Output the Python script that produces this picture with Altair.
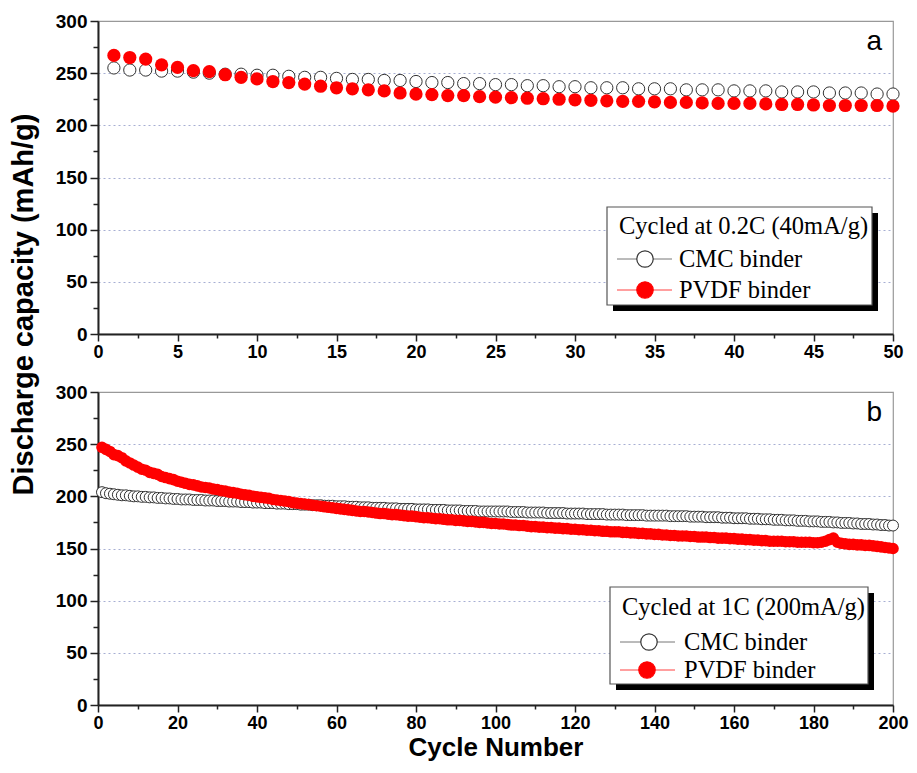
import altair as alt
import pandas as pd

# ---------------- data ----------------
cycles_a = list(range(1, 51))
cmc_a = [255, 253, 253, 252, 252, 251, 250, 249, 249, 248,
         248, 247, 246, 246, 245, 244, 244, 243, 243, 242,
         241, 241, 240, 240, 239, 239, 238, 238, 237, 237,
         236, 236, 236, 235, 235, 235, 234, 234, 234, 233,
         233, 233, 232, 232, 232, 231, 231, 231, 230, 230]
pvdf_a = [267, 265, 263.5, 258, 255.5, 252.5, 251.5, 248.5, 246, 244.5,
          242, 241, 239.5, 237.5, 236, 235, 234, 233, 231, 230,
          229.5, 228.5, 228.5, 227.5, 227, 226.5, 226, 225.5, 225, 224.5,
          224, 223.5, 223, 223, 222.5, 222, 222, 221.5, 221, 221,
          221, 220.5, 220, 220, 219.5, 219, 219, 219, 219, 218.5]

cycles_b = list(range(1, 201))
cmc_b = [204, 203, 202.5, 202, 201.5, 201, 201, 200.5, 200, 200,
         199.5, 199.5, 199, 199, 198.5, 198.5, 198, 198, 197.5, 197.5,
         197, 197, 197, 196.5, 196.5, 196.5, 196, 196, 196, 195.5,
         195.5, 195.5, 195, 195, 195, 194.5, 194.5, 194.5, 194, 194,
         194, 193.5, 193.5, 193.5, 193, 193, 193, 192.5, 192.5, 192.5,
         192, 192, 192, 191.5, 191.5, 191.5, 191, 191, 191, 190.5,
         190.5, 190.5, 190, 190, 190, 189.5, 189.5, 189.5, 189, 189,
         189, 189, 188.5, 188.5, 188.5, 188, 188, 188, 188, 187.5,
         187.5, 187.5, 187.5, 187, 187, 187, 187, 186.5, 186.5, 186.5,
         186.5, 186, 186, 186, 186, 185.5, 185.5, 185.5, 185.5, 185.5,
         185.5, 185.5, 185.5, 185, 185, 185, 185, 184.5, 184.5, 184.5,
         184.5, 184.5, 184, 184, 184, 184, 184, 183.5, 183.5, 183.5,
         183.5, 183.5, 183, 183, 183, 183, 183, 182.5, 182.5, 182.5,
         182.5, 182.5, 182, 182, 182, 182, 182, 181.5, 181.5, 181.5,
         181.5, 181.5, 181.5, 181, 181, 181, 181, 181, 180.5, 180.5,
         180.5, 180.5, 180, 180, 180, 180, 179.5, 179.5, 179.5, 179,
         179, 179, 179, 178.5, 178.5, 178.5, 178, 178, 178, 177.5,
         177.5, 177.5, 177, 177, 177, 176.5, 176.5, 176.5, 176, 176,
         176, 175.5, 175.5, 175.5, 175, 175, 174.5, 174.5, 174.5, 174,
         174, 173.5, 173.5, 173.5, 173, 173, 172.5, 172.5, 172, 172]
pvdf_b = [247, 245, 243, 240, 239, 237, 234, 232, 230, 228,
          226, 225, 223, 222, 221, 219, 218, 217, 216, 214.5,
          213.5, 212.5, 211.5, 211, 210, 209, 208.5, 208, 207, 206.5,
          205.5, 205, 204, 203.5, 203, 202, 201.5, 201, 200, 199.5,
          199, 198.5, 198, 197, 196.5, 196, 195.5, 195, 194, 193.5,
          193, 192.5, 192, 191.5, 191, 190.5, 190, 189.5, 189, 188.5,
          188, 187.5, 187, 186.5, 186, 185.5, 185.5, 185, 184.5, 184,
          183.5, 183.5, 183, 182.5, 182.5, 182, 181.5, 181, 181, 180.5,
          180, 179.5, 179.5, 179, 178.5, 178.5, 178, 177.5, 177.5, 177,
          177, 176.5, 176, 176, 175.5, 175, 175, 174.5, 174, 174,
          173.5, 173.5, 173, 172.5, 172.5, 172, 172, 171.5, 171, 171,
          170.5, 170.5, 170, 170, 169.5, 169.5, 169, 169, 168.5, 168.5,
          168, 168, 167.5, 167.5, 167, 167, 166.5, 166.5, 166, 166,
          166, 165.5, 165.5, 165, 165, 164.5, 164.5, 164, 164, 163.5,
          163.5, 163, 163, 162.5, 162.5, 162, 162, 162, 161.5, 161.5,
          161, 161, 161, 160.5, 160.5, 160, 160, 160, 159.5, 159.5,
          159, 159, 158.5, 158.5, 158, 158, 157.5, 157.5, 157, 157,
          157, 157, 156.5, 156.5, 156.5, 156, 156, 156, 156, 155.5,
          155.5, 156, 157, 158.5, 160, 156, 155, 154.5, 154, 154,
          153.5, 153.5, 153, 153, 152.5, 152, 151.5, 151, 150.5, 150]

panel_labels = ["a", "b"]
legend_titles = ["Cycled at 0.2C (40mA/g)", "Cycled at 1C (200mA/g)"]
series_names = ["CMC binder", "PVDF binder"]
y_title = "Discharge capacity (mAh/g)"
x_title = "Cycle Number"

# ---------------- styling ----------------
W, H = 795, 313
SANS = "Liberation Sans"
SERIF = "Liberation Serif"
RED = "#ff0000"
EDGE = "#333333"


def one(text=""):
    return alt.Data(values=[{"t": text}])


def x_axis(xmax, minor, major, title):
    vals = [round(i * minor, 2) for i in range(int(round(xmax / minor)) + 1)]
    kw = dict(
        values=vals,
        labelExpr=f"datum.value % {major} === 0 ? format(datum.value, 'd') : ''",
        tickSize={"condition": {"test": f"datum.value % {major} === 0", "value": 7}, "value": 4},
        tickColor="#222", tickWidth=1.5,
        domainColor="#222", domainWidth=2,
        grid=False,
        labelFont=SANS, labelFontWeight="bold", labelFontSize=18, labelColor="black",
        labelPadding=2, labelFlush=False, labelOverlap=False,
    )
    if title:
        kw.update(title=title, titleFont=SANS, titleFontWeight="bold", titleFontSize=26,
                  titleColor="black", titlePadding=2)
    else:
        kw.update(title=None)
    return alt.Axis(**kw)


def y_axis(title):
    vals = list(range(0, 301, 25))
    kw = dict(
        values=vals,
        labelExpr="datum.value % 50 === 0 ? format(datum.value, 'd') : ''",
        tickSize={"condition": {"test": "datum.value % 50 === 0", "value": 8}, "value": 5},
        tickColor="#222", tickWidth=1.5,
        domainColor="#222", domainWidth=2,
        grid=True, gridColor="#a7aed3", gridDash=[2, 3], gridWidth=1,
        gridOpacity={"condition": {"test": "datum.value % 50 === 0 && datum.value > 0 && datum.value < 300",
                                   "value": 1}, "value": 0},
        labelFont=SANS, labelFontWeight="bold", labelFontSize=19, labelColor="black",
        labelPadding=3, labelFlush=False, labelOverlap=False,
    )
    if title:
        kw.update(title=title, titleFont=SANS, titleFontWeight="bold", titleFontSize=29,
                  titleColor="black", titleX=-60, titleY=283, titleAngle=270,
                  titleAlign="center", titleBaseline="bottom")
    else:
        kw.update(title=None)
    return alt.Axis(**kw)


def legend(box, title, title_xy, rows, line_x):
    bx1, by1, bx2, by2 = box
    layers = [
        alt.Chart(one()).mark_rect(color="black").encode(
            x=alt.value(bx1 + 6), x2=alt.value(bx2 + 6), y=alt.value(by1 + 6), y2=alt.value(by2 + 6)),
        alt.Chart(one()).mark_rect(fill="white", stroke="#555", strokeWidth=1.2).encode(
            x=alt.value(bx1), x2=alt.value(bx2), y=alt.value(by1), y2=alt.value(by2)),
        alt.Chart(one(title)).mark_text(font=SERIF, fontSize=24.5, align="left", baseline="alphabetic",
                                        color="black").encode(
            text="t:N", x=alt.value(title_xy[0]), y=alt.value(title_xy[1])),
    ]
    styles = [
        dict(line="#777777", fill="white", stroke=EDGE),
        dict(line="#ff4040", fill=RED, stroke=RED),
    ]
    for (name, (cx, cy, tx, ty)), st in zip(zip(series_names, rows), styles):
        layers.append(alt.Chart(one()).mark_rule(color=st["line"], strokeWidth=1).encode(
            x=alt.value(line_x[0]), x2=alt.value(line_x[1]), y=alt.value(cy)))
        layers.append(alt.Chart(one()).mark_point(shape="circle", filled=True, fill=st["fill"],
                                                  stroke=st["stroke"], strokeWidth=1.2, size=270,
                                                  opacity=1).encode(
            x=alt.value(cx), y=alt.value(cy)))
        layers.append(alt.Chart(one(name)).mark_text(font=SERIF, fontSize=24.5, align="left",
                                                     baseline="alphabetic", color="black").encode(
            text="t:N", x=alt.value(tx), y=alt.value(ty)))
    return layers


def panel(cycles, cmc, pvdf, xmax, minor, major, xt, yt, label, sizes, leg):
    df = pd.DataFrame({"cycle": cycles, "cmc": cmc, "pvdf": pvdf})
    X = alt.X("cycle:Q", scale=alt.Scale(domain=[0, xmax], nice=False, zero=False),
              axis=x_axis(xmax, minor, major, xt))
    ys = alt.Scale(domain=[0, 300], nice=False)
    base = alt.Chart(df)
    cmc_layer = base.mark_point(shape="circle", filled=True, fill="white", stroke=EDGE,
                                strokeWidth=1, size=sizes[0], opacity=1).encode(
        x=X, y=alt.Y("cmc:Q", scale=ys, axis=y_axis(yt)))
    pvdf_layer = base.mark_circle(color=RED, size=sizes[1], opacity=1).encode(
        x=X, y=alt.Y("pvdf:Q", scale=ys, axis=y_axis(yt)))
    lab = alt.Chart(one(label)).mark_text(font=SANS, fontSize=28, align="right",
                                          baseline="alphabetic", color="black").encode(
        text="t:N", x=alt.value(784), y=alt.value(29))
    return alt.layer(cmc_layer, pvdf_layer, lab, *leg).properties(width=W, height=H)


top = panel(cycles_a, cmc_a, pvdf_a, 50, 2.5, 5, None, y_title, panel_labels[0], (150, 175),
            legend((509, 186, 774, 284), legend_titles[0], (521, 213),
                   [(547, 238, 581, 246), (547, 269, 581, 277)], (519, 574)))
bottom = panel(cycles_b, cmc_b, pvdf_b, 200, 10, 20, x_title, None, panel_labels[1], (120, 135),
               legend((512, 195, 770, 292), legend_titles[1], (524, 223),
                      [(551, 250, 586, 258), (549, 278, 586, 286)], (522, 577)))

chart = alt.vconcat(top, bottom, spacing=58, bounds="flush").properties(
    padding={"left": 0, "top": 3, "right": 0, "bottom": 0}
).configure_view(stroke="#999999", strokeWidth=1.2)

chart.save("out.html", embed_options={"renderer": "svg", "actions": False})
